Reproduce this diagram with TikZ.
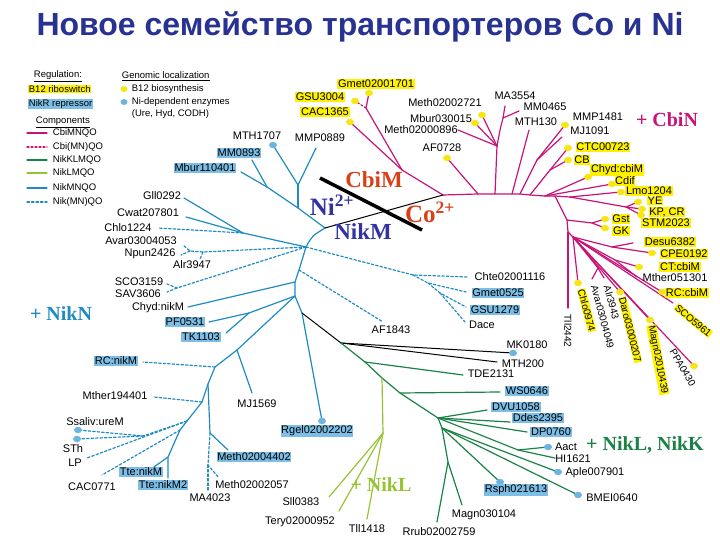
\documentclass[tikz,border=0pt]{standalone}
\usepackage{fontspec}
\setmainfont{Liberation Serif}
\setsansfont{Liberation Sans}
\usetikzlibrary{shapes.geometric}
\definecolor{cbi}{RGB}{200,20,120}
\definecolor{nik}{RGB}{30,140,195}
\definecolor{nkk}{RGB}{25,130,70}
\definecolor{nkl}{RGB}{150,195,50}
\definecolor{ybox}{RGB}{255,242,0}
\definecolor{bbox}{RGB}{125,190,230}
\definecolor{ydotc}{RGB}{245,230,20}
\definecolor{bdotc}{RGB}{110,180,225}
\definecolor{titlec}{RGB}{40,50,145}
\definecolor{cobc}{RGB}{215,65,25}
\definecolor{nic}{RGB}{50,50,160}
\begin{document}
\begin{tikzpicture}[x=1pt,y=-1pt,line cap=round,line join=round,
 lab/.style={font=\sffamily\fontsize{11}{12}\selectfont, inner sep=0.7pt},
 rlab/.style={font=\sffamily\fontsize{10}{11}\selectfont, inner sep=0.5pt, anchor=west},
 yl/.style={lab, fill=ybox},
 bl/.style={lab, fill=bbox},
 leg/.style={font=\sffamily\fontsize{9.5}{10}\selectfont, inner sep=0.7pt},
 ydot/.style={ellipse, fill=ydotc, minimum width=8pt, minimum height=6.5pt, inner sep=0pt},
 bdot/.style={ellipse, fill=bdotc, minimum width=8pt, minimum height=6.5pt, inner sep=0pt},
 cb/.style={draw=cbi, line width=1.2pt},
 cbd/.style={cb, dash pattern=on 2pt off 2pt},
 nk/.style={draw=nik, line width=1.2pt},
 nkd/.style={nk, dash pattern=on 2.5pt off 2pt},
 gk/.style={draw=nkk, line width=1.2pt},
 gl/.style={draw=nkl, line width=1.2pt},
 bk/.style={draw=black, line width=1pt},
 big/.style={font=\bfseries\fontsize{23}{24}\selectfont, inner sep=0pt},
 plus/.style={font=\bfseries\fontsize{20}{22}\selectfont, inner sep=0pt}]
\useasboundingbox (0,0) rectangle (720,540);

% ---------------- title
\node[font=\sffamily\bfseries\fontsize{32}{34}\selectfont, text=titlec] (title) at (360,27) {Новое семейство транспортеров Co и Ni};

% ---------------- coordinates: magenta tree
\coordinate (R) at (443,195);
\coordinate (c1) at (402,170); \coordinate (c2) at (366,108);
\coordinate (pCAC) at (350,122); \coordinate (pGSU) at (355,101); \coordinate (pGmet) at (369,93);
\coordinate (Ta) at (478,194); \coordinate (pAF) at (447,158);
\coordinate (Tb) at (495,194); \coordinate (Mm) at (497,146); \coordinate (Mv) at (500,130); \coordinate (Mw) at (503,118);
\coordinate (pMeth1) at (482,115); \coordinate (pMbur) at (475,123); \coordinate (eMeth2) at (458,130);
\coordinate (eMA) at (505,106); \coordinate (eMM) at (519,111);
\coordinate (Tc) at (512,194); \coordinate (eMTH130) at (529,130);
\coordinate (Td) at (520,194); \coordinate (Me) at (537,160); \coordinate (pMMP) at (565,125); \coordinate (eMJ) at (562,137);
\coordinate (Te) at (530,195); \coordinate (Mf) at (550,170); \coordinate (pCTC) at (568,148); \coordinate (pCB) at (568,160);
\coordinate (Tf) at (545,196); \coordinate (pChyd) at (588,177); \coordinate (pCdif) at (612,184);
\coordinate (Tg) at (555,196); \coordinate (Th) at (570,197); \coordinate (pLmo) at (621,192);
\coordinate (Mg) at (626,207); \coordinate (pYE) at (638,202); \coordinate (pKP) at (642,209); \coordinate (pSTM) at (641,215);
\coordinate (Tj) at (567,220); \coordinate (Mh) at (592,223); \coordinate (pGst) at (605,219); \coordinate (pGK) at (605,228);
\coordinate (Tk) at (568,232); \coordinate (eTll) at (568,308); \coordinate (Tl) at (573,237);
\coordinate (Mi) at (612,247); \coordinate (eDesu) at (633,243); \coordinate (pCPE) at (652,253);
\coordinate (Mk) at (615,260); \coordinate (pCT) at (639,267); \coordinate (eMther) at (637,277);
\coordinate (pRC) at (662,292); \coordinate (eSCO) at (673,303); \coordinate (pPPA) at (694,366);
\coordinate (pMagn) at (650,320); \coordinate (pDaro) at (620,292);
\coordinate (Ma) at (598,268); \coordinate (eAvar) at (592,279); \coordinate (eAlr) at (604,278); \coordinate (pChlo) at (578,283);

% ---------------- coordinates: blue tree
\coordinate (B0) at (325,228);
\coordinate (U3) at (267,187); \coordinate (eMM0893) at (252,160); \coordinate (eMbur11) at (241,172);
\coordinate (U2) at (298,208); \coordinate (U1) at (298,185); \coordinate (pMTH1707) at (273,145); \coordinate (eMMP0889) at (316,148);
\coordinate (B1) at (306,247);
\coordinate (GC) at (243,233); \coordinate (eGll) at (184,198); \coordinate (eCwat) at (186,217); \coordinate (eChlo1224) at (158,228);
\coordinate (AA) at (203,252); \coordinate (AN) at (190,251); \coordinate (eAvar53) at (183,245); \coordinate (eNpun) at (181,255); \coordinate (eAlr3947) at (200,259);
\coordinate (SS) at (177,288); \coordinate (eSCO3159) at (167,284); \coordinate (eSAV) at (167,292);
\coordinate (CH1) at (413,275); \coordinate (eChte) at (468,277); \coordinate (CH2) at (428,283); \coordinate (eGmet0525) at (466,292);
\coordinate (CH3) at (440,293); \coordinate (eGSU1279) at (466,307); \coordinate (eDace) at (465,322);
\coordinate (B2) at (299,270); \coordinate (eAF1843) at (383,322);
\coordinate (B3) at (295,282); \coordinate (eChydnik) at (188,307);
\coordinate (B4) at (295,296); \coordinate (PT) at (249,313); \coordinate (ePF) at (209,322); \coordinate (eTK) at (226,333);
\coordinate (B10) at (302,313); \coordinate (pRgel) at (322,421);
\coordinate (B5) at (237,350); \coordinate (eMJ1569) at (252,393);
\coordinate (B6) at (215,367); \coordinate (eRCnik) at (143,362);
\coordinate (B7) at (208,384); \coordinate (MV) at (210,433); \coordinate (eMeth4402) at (228,450);
\coordinate (MD) at (208,465); \coordinate (eMeth2057) at (219,478); \coordinate (eMA4023) at (208,490);
\coordinate (B8) at (202,402); \coordinate (eMther19) at (154,397);
\coordinate (B9) at (187,421); \coordinate (SD) at (143,436); \coordinate (pSsal) at (78,430); \coordinate (pSTh) at (77,439);
\coordinate (eLP) at (87,458); \coordinate (B9b) at (180,430); \coordinate (eCAC0771) at (102,475);
\coordinate (TF) at (168,457); \coordinate (eTte1) at (154,467); \coordinate (eTte2) at (168,478);

% ---------------- coordinates: black / green
\coordinate (K1) at (341,343); \coordinate (pMK) at (513,353); \coordinate (eMTH200) at (497,362);
\coordinate (tk1) at (320,178); \coordinate (tk2) at (422,230);
\coordinate (G1) at (365,362); \coordinate (eTDE) at (463,375);
\coordinate (G2) at (382,378); \coordinate (G3) at (400,393); \coordinate (eWS) at (500,392);
\coordinate (G4) at (438,418); \coordinate (eDVU) at (487,410); \coordinate (eDdes) at (510,422); \coordinate (eDP) at (527,432);
\coordinate (AH) at (518,450); \coordinate (pAact) at (548,447); \coordinate (eHI) at (555,458);
\coordinate (G5) at (442,428); \coordinate (pAple) at (558,472); \coordinate (pBMEI) at (578,495); \coordinate (pRsph) at (500,482);
\coordinate (G6) at (448,462); \coordinate (eRrub) at (437,522); \coordinate (eMagn03) at (462,505);
\coordinate (L1) at (383,433); \coordinate (eSll) at (329,497); \coordinate (eTery) at (339,511); \coordinate (eTll1418) at (367,519);

% ---------------- magenta lines
\draw[cb] (R) -- (Ta) -- (Tb) -- (Tc) -- (Td) -- (Te) -- (Tf) -- (Tg) -- (Th);
\draw[cb] (R) -- (c1) -- (pCAC);
\draw[cb] (c1) -- (c2) -- (pGmet);
\draw[cbd] (c2) -- (pGSU);
\draw[cb] (Ta) -- (pAF);
\draw[cb] (Tb) -- (Mm) -- (Mv) -- (Mw) -- (eMA);
\draw[cb] (Mw) -- (eMM);
\draw[cb] (Mm) -- (pMeth1);
\draw[cb] (Mm) -- (pMbur);
\draw[cb] (Mm) -- (eMeth2);
\draw[cb] (Tc) -- (eMTH130);
\draw[cb] (Td) -- (Me) -- (pMMP);
\draw[cb] (Me) -- (eMJ);
\draw[cb] (Te) -- (Mf) -- (pCTC);
\draw[cb] (Mf) -- (pCB);
\draw[cb] (Tf) -- (pChyd);
\draw[cb] (Tf) -- (pCdif);
\draw[cb] (Th) -- (pLmo);
\draw[cb] (Th) -- (Mg) -- (pYE);
\draw[cb] (Mg) -- (pKP);
\draw[cb] (Mg) -- (pSTM);
\draw[cb] (Tg) -- (Tj) -- (Tk) -- (Tl);
\draw[cb] (Tj) -- (Mh) -- (pGst);
\draw[cb] (Mh) -- (pGK);
\draw[cb] (Tk) -- (eTll);
\draw[cb] (Tl) -- (Mi) -- (eDesu);
\draw[cb] (Mi) -- (pCPE);
\draw[cb] (Tl) -- (Mk) -- (pCT);
\draw[cb] (Mk) -- (eMther);
\draw[cb] (Tl) -- (pRC);
\draw[cb] (Tl) -- (eSCO);
\draw[cb] (Tl) -- (pPPA);
\draw[cb] (Tl) -- (pMagn);
\draw[cb] (Tl) -- (pDaro);
\draw[cb] (Tl) -- (Ma) -- (eAvar);
\draw[cb] (Ma) -- (eAlr);
\draw[cb] (Tl) -- (pChlo);

% ---------------- blue lines
\draw[nk] (U3) -- (U2) -- (B0);
\draw[nk] (U3) -- (eMM0893);
\draw[nk] (U3) -- (eMbur11);
\draw[nk] (U1) -- (U2);
\draw[nk] (U1) -- (pMTH1707);
\draw[nk] (U1) -- (eMMP0889);
\draw[nk] (B0) .. controls (312,236) .. (B1);
\draw[nk] (B1) -- (B2) -- (B3) -- (B4) -- (B10) -- (pRgel);
\draw[nk] (B1) -- (GC) -- (eGll);
\draw[nk] (GC) -- (eCwat);
\draw[nkd] (GC) -- (eChlo1224);
\draw[nkd] (B1) -- (AA) -- (AN) -- (eAvar53);
\draw[nkd] (AN) -- (eNpun);
\draw[nkd] (AA) -- (eAlr3947);
\draw[nkd] (B1) -- (SS) -- (eSCO3159);
\draw[nkd] (SS) -- (eSAV);
\draw[nkd] (B1) -- (CH1) -- (eChte);
\draw[nkd] (CH1) -- (CH2) -- (eGmet0525);
\draw[nkd] (CH2) -- (CH3) -- (eGSU1279);
\draw[nkd] (CH3) -- (eDace);
\draw[nkd] (B2) -- (eAF1843);
\draw[nk] (B3) -- (eChydnik);
\draw[nk] (B4) -- (PT) -- (eTK);
\draw[nk] (PT) -- (ePF);
\draw[nk] (B4) -- (B5) -- (B6) -- (B7) -- (B8) -- (B9) -- (B9b) -- (TF) -- (eTte2);
\draw[nk] (TF) -- (eTte1);
\draw[nk] (B5) -- (eMJ1569);
\draw[nkd] (B6) -- (eRCnik);
\draw[nk] (B7) -- (MV) -- (eMeth4402);
\draw[nkd] (MV) -- (MD) -- (eMeth2057);
\draw[nkd] (MD) -- (eMA4023);
\draw[nkd] (B8) -- (eMther19);
\draw[nkd] (B9) -- (SD) -- (pSsal);
\draw[nkd] (SD) -- (pSTh);
\draw[nkd] (B9) -- (eLP);
\draw[nkd] (B9b) -- (eCAC0771);

% ---------------- black lines
\draw[bk] (B0) -- (R);
\draw[bk] (B10) -- (K1) -- (pMK);
\draw[bk] (K1) -- (eMTH200);
\draw[line width=3.5pt, line cap=butt] (tk1) -- (tk2);

% ---------------- green lines
\draw[gk] (K1) -- (G1) -- (G2) -- (G3) -- (G4) -- (G5) -- (G6) -- (eRrub);
\draw[gk] (G1) -- (eTDE);
\draw[gk] (G3) -- (eWS);
\draw[gk] (G4) -- (eDVU);
\draw[gk] (G4) -- (eDdes);
\draw[gk] (G4) -- (eDP);
\draw[gk] (G4) -- (AH) -- (pAact);
\draw[gk] (AH) -- (eHI);
\draw[gk] (G5) -- (pAple);
\draw[gk] (G5) -- (pBMEI);
\draw[gk] (G5) -- (pRsph);
\draw[gk] (G6) -- (eMagn03);
\draw[gl] (G2) -- (L1) -- (eSll);
\draw[gl] (L1) -- (eTery);
\draw[gl] (L1) -- (eTll1418);

% ---------------- dots
\foreach \p in {pCAC,pGSU,pGmet,pAF,pMeth1,pMbur,pMMP,pCTC,pCB,pChyd,pCdif,pLmo,pYE,pKP,pSTM,pGst,pGK,pCPE,pCT,pRC,pPPA,pMagn,pDaro,pChlo}
  \node[ydot] (d\p) at (\p) {};
\foreach \p in {pMTH1707,pRgel,pSsal,pSTh,pMK,pAact,pAple,pBMEI,pRsph}
  \node[bdot] (d\p) at (\p) {};

% ---------------- magenta labels
\node[yl] (lGmet) at (376,84) {Gmet02001701};
\node[yl] (lGSU) at (320,97) {GSU3004};
\node[yl] (lCAC) at (325,112) {CAC1365};
\node[lab] (lAF) at (442,148) {AF0728};
\node[lab] (lMeth1) at (445,103) {Meth02002721};
\node[lab] (lMbur) at (441,119) {Mbur030015};
\node[lab] (lMeth2) at (421,130) {Meth02000896};
\node[lab] (lMA) at (515,96) {MA3554};
\node[lab] (lMM) at (545,107) {MM0465};
\node[lab] (lMTH130) at (536,122) {MTH130};
\node[lab] (lMMP) at (598,117) {MMP1481};
\node[lab] (lMJ) at (590,131) {MJ1091};
\node[yl] (lCTC) at (603,147) {CTC00723};
\node[yl] (lCB) at (582,160) {CB};
\node[yl] (lChyd) at (617,170) {Chyd:cbiM};
\node[yl] (lCdif) at (625,181) {Cdif};
\node[yl] (lLmo) at (649,191) {Lmo1204};
\node[yl] (lYE) at (655,201) {YE};
\node[yl] (lKP) at (667,212) {KP, CR};
\node[yl] (lSTM) at (666,223) {STM2023};
\node[yl] (lGst) at (621,219) {Gst};
\node[yl] (lGK) at (621,231) {GK};
\node[yl] (lDesu) at (670,242) {Desu6382};
\node[yl] (lCPE) at (684,254) {CPE0192};
\node[yl] (lCT) at (680,267) {CT:cbiM};
\node[lab] (lMther) at (675,278) {Mther051301};
\node[yl] (lRC) at (687,293) {RC:cbiM};
\node[rlab, fill=ybox, rotate=-40] (lSCO) at (676,306) {SCO5961};
\node[rlab, rotate=-60] (lPPA) at (672,349) {PPA0430};
\node[rlab, fill=ybox, rotate=-79] (lMagn) at (651,325) {Magn02010439};
\node[rlab, fill=ybox, rotate=-76] (lDaro) at (622,297) {Daro03000207};
\node[rlab, fill=ybox, rotate=-75] (lChlo) at (581,289) {Chlo0974};
\node[rlab, rotate=-75] (lAvar) at (594,285) {Avar03004049};
\node[rlab, rotate=-75] (lAlr) at (607,285) {Alr3943};
\node[rlab, rotate=-90] (lTll) at (568,314) {Tll2442};

% ---------------- blue labels
\node[lab] (lMTH1707) at (257,136) {MTH1707};
\node[lab] (lMMP0889) at (320,138) {MMP0889};
\node[bl] (lMM0893) at (239,153) {MM0893};
\node[bl] (lMbur11) at (205,168) {Mbur110401};
\node[lab] (lGll) at (162,196) {Gll0292};
\node[lab] (lCwat) at (148,213) {Cwat207801};
\node[lab] (lChlo1224) at (128,228) {Chlo1224};
\node[lab] (lAvar53) at (141,241) {Avar03004053};
\node[lab] (lNpun) at (150,254) {Npun2426};
\node[lab] (lAlr3947) at (192,265) {Alr3947};
\node[lab] (lSCO3159) at (139,282) {SCO3159};
\node[lab] (lSAV) at (138,294) {SAV3606};
\node[lab] (lChydnik) at (158,308) {Chyd:nikM};
\node[bl] (lPF) at (185,322) {PF0531};
\node[bl] (lTK) at (201,337) {TK1103};
\node[bl] (lRCnik) at (116,361) {RC:nikM};
\node[lab] (lMther19) at (115,396) {Mther194401};
\node[lab] (lMJ1569) at (257,404) {MJ1569};
\node[lab] (lSsal) at (95,422) {Ssaliv:ureM};
\node[lab] (lSTh) at (73,449) {STh};
\node[lab] (lLP) at (75,463) {LP};
\node[lab] (lCAC0771) at (92,487) {CAC0771};
\node[bl] (lTte1) at (141,472) {Tte:nikM};
\node[bl] (lTte2) at (163,485) {Tte:nikM2};
\node[lab] (lMA4023) at (210,498) {MA4023};
\node[lab] (lMeth2057) at (252,485) {Meth02002057};
\node[bl] (lMeth4402) at (254,457) {Meth02004402};
\node[bl] (lRgel) at (317,431) {Rgel02002202};
\node[lab] (lAF1843) at (391,330) {AF1843};
\node[lab] (lChte) at (510,277) {Chte02001116};
\node[bl] (lGmet0525) at (498,293) {Gmet0525};
\node[bl] (lGSU1279) at (495,310) {GSU1279};
\node[lab] (lDace) at (482,325) {Dace};

% ---------------- black / green labels
\node[lab] (lMK) at (527,345) {MK0180};
\node[lab] (lMTH200) at (523,364) {MTH200};
\node[lab] (lTDE) at (491,374) {TDE2131};
\node[bl] (lWS) at (527,391) {WS0646};
\node[bl] (lDVU) at (516,407) {DVU1058};
\node[bl] (lDdes) at (538,418) {Ddes2395};
\node[bl] (lDP) at (551,432) {DP0760};
\node[lab] (lAact) at (566,447) {Aact};
\node[lab] (lHI) at (573,459) {HI1621};
\node[lab] (lAple) at (595,473) {Aple007901};
\node[bl] (lRsph) at (516,490) {Rsph021613};
\node[lab] (lBMEI) at (612,498) {BMEI0640};
\node[lab] (lMagn03) at (484,515) {Magn030104};
\node[lab] (lRrub) at (439,532) {Rrub02002759};
\node[lab] (lSll) at (301,502) {Sll0383};
\node[lab] (lTery) at (300,522) {Tery02000952};
\node[lab] (lTll1418) at (367,529) {Tll1418};

% ---------------- big labels
\node[big, text=cobc] (tCbiM) at (374,180) {CbiM};
\node[big, text=nic, font=\bfseries\fontsize{25}{26}\selectfont] (tNi) at (332,205) {Ni\textsuperscript{2+}};
\node[big, text=cobc, font=\bfseries\fontsize{25}{26}\selectfont] (tCo) at (430,212) {Co\textsuperscript{2+}};
\node[big, text=nic] (tNikM) at (363,232) {NikM};
\node[plus, text=cbi] (pCbiN) at (667,120) {+ CbiN};
\node[plus, text=nik] (pNikN) at (61,314) {+ NikN};
\node[plus, text=nkl] (pNikL) at (381,485) {+ NikL};
\node[plus, text=nkk] (pNikLK) at (645,445) {+ NikL, NikK};

% ---------------- legend
\node[leg, anchor=west] (gReg) at (33,76) {\underline{Regulation:}};
\node[leg, anchor=west, fill=ybox] (gB12) at (28,89) {B12 riboswitch};
\node[leg, anchor=west, fill=bbox] (gNikR) at (28,104) {NikR repressor};
\node[leg, anchor=west] (gComp) at (35,122) {\underline{Components}};
\coordinate (k1a) at (27,133); \coordinate (k1b) at (47,133);
\coordinate (k2a) at (27,147); \coordinate (k2b) at (47,147);
\coordinate (k3a) at (27,160); \coordinate (k3b) at (47,160);
\coordinate (k4a) at (27,173); \coordinate (k4b) at (47,173);
\coordinate (k5a) at (27,188); \coordinate (k5b) at (47,188);
\coordinate (k6a) at (27,202); \coordinate (k6b) at (47,202);
\draw[cb] (k1a) -- (k1b);
\draw[cbd] (k2a) -- (k2b);
\draw[gk] (k3a) -- (k3b);
\draw[gl] (k4a) -- (k4b);
\draw[nk] (k5a) -- (k5b);
\draw[nkd] (k6a) -- (k6b);
\node[leg, anchor=west] (gC1) at (52,133) {CbiMNQO};
\node[leg, anchor=west] (gC2) at (52,147) {Cbi(MN)QO};
\node[leg, anchor=west] (gC3) at (52,160) {NikKLMQO};
\node[leg, anchor=west] (gC4) at (52,173) {NikLMQO};
\node[leg, anchor=west] (gC5) at (52,188) {NikMNQO};
\node[leg, anchor=west] (gC6) at (52,202) {Nik(MN)QO};
\node[leg, anchor=west] (gGen) at (121,76) {\underline{Genomic localization}};
\node[ydot, minimum width=7pt, minimum height=6pt] (gyd) at (124,89) {};
\node[leg, anchor=west] (gB12b) at (131,89) {B12 biosynthesis};
\node[bdot, minimum width=7pt, minimum height=6pt] (gbd) at (124,102) {};
\node[leg, anchor=west] (gNid) at (131,102) {Ni-dependent enzymes};
\node[leg, anchor=west] (gUre) at (131,114) {(Ure, Hyd, CODH)};
\end{tikzpicture}
\end{document}
